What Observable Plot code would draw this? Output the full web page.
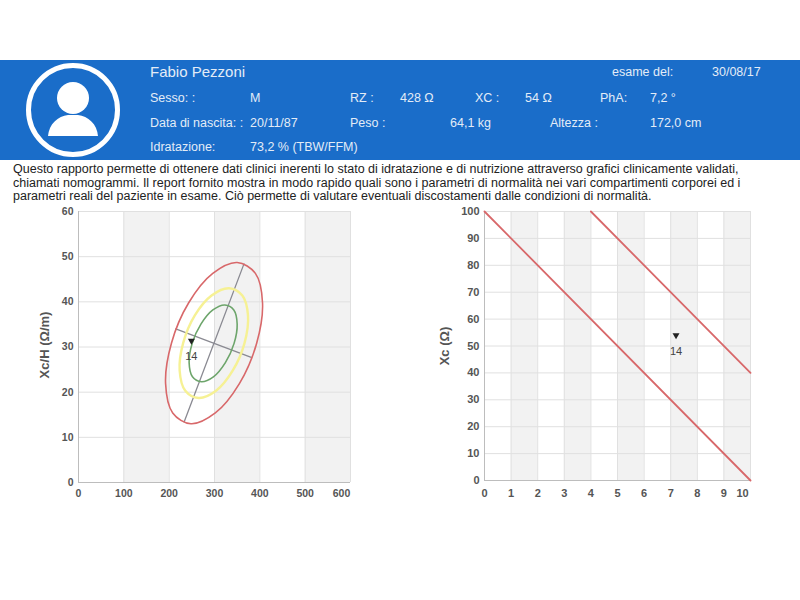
<!DOCTYPE html>
<html><head><meta charset="utf-8">
<script src="https://cdn.jsdelivr.net/npm/d3@7"></script>
<script src="https://cdn.jsdelivr.net/npm/@observablehq/plot@0.6"></script>
<style>
html,body{margin:0;padding:0;background:#fff;font-family:"Liberation Sans",Arial,sans-serif;}
#page{position:relative;width:800px;height:600px;overflow:hidden;}
#hdr{position:absolute;left:0;top:60px;width:800px;height:100px;background:#1a6dc9;}
.h{position:absolute;color:#e3ecf7;line-height:14px;white-space:nowrap;}
#body{position:absolute;left:13px;top:163px;width:785px;font-size:12.5px;line-height:13.5px;color:#222;white-space:nowrap;}
.chart{position:absolute;top:200px;}
.chart svg{display:block;}
.ylab{position:absolute;font-size:13px;font-weight:bold;color:#555;transform:translate(-50%,-50%) rotate(-90deg);white-space:nowrap;}
</style></head><body><div id="page">
<div id="hdr"></div>
<svg style="position:absolute;left:0;top:60px" width="150" height="100" viewBox="0 60 150 100">
<circle cx="73" cy="110" r="44.5" fill="none" stroke="#fff" stroke-width="5"/>
<circle cx="73" cy="98" r="16" fill="#fff"/>
<path d="M48 136 C49 124 58 116 68 115 L78 115 C88 116 97 124 98 136 Z" fill="#fff"/>
</svg>
<div id="body">Questo rapporto permette di ottenere dati clinici inerenti lo stato di idratazione e di nutrizione attraverso grafici clinicamente validati,<br>chiamati nomogrammi. Il report fornito mostra in modo rapido quali sono i parametri di normalità nei vari compartimenti corporei ed i<br>parametri reali del paziente in esame. Ciò permette di valutare eventuali discostamenti dalle condizioni di normalità.</div>
<div class="chart" id="c1" style="left:0"></div>
<div class="chart" id="c2" style="left:420px"></div>
<div class="ylab" style="left:44px;top:345px">Xc/H (Ω/m)</div>
<div class="ylab" style="left:444px;top:346px">Xc (Ω)</div>
</div>
<script>
// Header texts: [text, left, centre y, size]
const headerTexts = [
  ["Fabio Pezzoni",150,72,15],["esame del:",612,72,12.5],["30/08/17",712,72,12.5],
  ["Sesso: :",150,97.5,12.5],["M",250,97.5,12.5],["RZ :",350,97.5,12.5],["428 Ω",400,97.5,12.5],["XC :",475,97.5,12.5],["54 Ω",525,97.5,12.5],["PhA:",600,97.5,12.5],["7,2 °",650,97.5,12.5],
  ["Data di nascita: :",150,122.5,12.5],["20/11/87",250,122.5,12.5],["Peso :",350,122.5,12.5],["64,1 kg",450,122.5,12.5],["Altezza :",550,122.5,12.5],["172,0 cm",650,122.5,12.5],
  ["Idratazione:",150,147,12.5],["73,2 % (TBW/FFM)",250,147,12.5]
];
const page = document.getElementById("page");
for (const [t,x,y,s] of headerTexts){
  const d=document.createElement("div");d.className="h";d.textContent=t;
  d.style.left=x+"px";d.style.top=(y-7)+"px";d.style.fontSize=s+"px";page.appendChild(d);
}

// Left chart: RXc graph
const rxcXTicks=[0,100,200,300,400,500,600];
const rxcYTicks=[0,10,20,30,40,50,60];
const rxcBands=[[100,200],[300,400],[500,600]];
const redEllipse=[[350,48.7],[390.2,46.3],[405.9,39.8],[393,30.85],[354.9,21.9],[301.8,15.4],[248,13],[207.8,15.4],[192.1,21.9],[205,30.85],[243.1,39.8],[296.2,46.3]];
const yellowEllipse=[[332,43],[361.4,41.4],[373.9,37],[366.2,30.85],[340.4,24.8],[303.4,20.3],[265,18.7],[235.6,20.3],[223.1,24.8],[230.8,30.85],[256.6,37],[293.6,41.4]];
const greenEllipse=[[323,39.3],[342.6,38.2],[350,35.05],[343.2,30.8],[324,26.55],[297.6,23.4],[271,22.3],[251.4,23.4],[244,26.55],[250.8,30.8],[270,35.05],[296.4,38.2]];
const majorAxis=[[233,13.4],[365,48.4]];
const minorAxis=[[214.5,34],[381,27.7]];
const rxcPoint=[{x:249,y:31.4,label:"14"}];

// Right chart: PhA graph
const phaXTicks=[0,1,2,3,4,5,6,7,8,9,10];
const phaYTicks=[0,10,20,30,40,50,60,70,80,90,100];
const phaBands=[[1,2],[3,4],[5,6],[7,8],[9,10]];
const lowerLine=[[0,100],[10,0]];
const upperLine=[[4,100],[10,40]];
const phaPoint=[{x:7.2,y:54,label:"14"}];

const gridC="#e0e0e0", bandC="#f2f2f2", axisC="#bdbdbd";

function chart({width,marginLeft,marginRight,marginBottom,padX,fontSize,lastDx,xDomain,yDomain,xTicks,yTicks,bands,marks}){
  const lastTick=xTicks[xTicks.length-1];
  const tickStyle={fontSize,fontWeight:"bold",fill:"#555",tickSize:0};
  return Plot.plot({
    width,height:300,marginLeft,marginRight,marginTop:11,marginBottom,
    style:{background:"transparent",fontFamily:"'Liberation Sans',Arial,sans-serif"},
    x:{domain:xDomain,label:null},y:{domain:yDomain,label:null},
    marks:[
      Plot.rect(bands,{x1:d=>d[0],x2:d=>d[1],y1:yDomain[0],y2:yDomain[1],fill:bandC}),
      Plot.gridX(xTicks,{stroke:gridC,strokeOpacity:1}),
      Plot.gridY(yTicks,{stroke:gridC,strokeOpacity:1}),
      Plot.ruleX([xDomain[0]],{stroke:axisC}),
      Plot.ruleY([yDomain[0]],{stroke:axisC}),
      ...marks,
      Plot.axisY({ticks:yTicks,anchor:"left",label:null,tickPadding:5,...tickStyle}),
      Plot.axisX({ticks:xTicks.slice(0,-1),anchor:"bottom",label:null,tickPadding:padX,...tickStyle}),
      Plot.axisX({ticks:[lastTick],anchor:"bottom",label:null,tickPadding:padX,dx:lastDx,...tickStyle})
    ]
  });
}
const ptMarks=(p,dy)=>[
  Plot.dot(p,{x:"x",y:"y",symbol:"triangle",r:2.6,fill:"#222",rotate:180}),
  Plot.text(p,{x:"x",y:"y",text:"label",dy,fontSize:11,fill:"#444"})
];
const xy={x:d=>d[0],y:d=>d[1]};
document.getElementById("c1").appendChild(chart({
  width:380,marginLeft:78,marginRight:30,marginBottom:18,padX:7,fontSize:10.5,lastDx:-9,
  xDomain:[0,600],yDomain:[0,60],xTicks:rxcXTicks,yTicks:rxcYTicks,bands:rxcBands,
  marks:[
    Plot.line(majorAxis,{...xy,stroke:"#8a8a92",strokeWidth:1.3}),
    Plot.line(minorAxis,{...xy,stroke:"#8a8a92",strokeWidth:1.3}),
    Plot.line(redEllipse,{...xy,curve:"catmull-rom-closed",stroke:"#d8686a",strokeWidth:1.6}),
    Plot.line(yellowEllipse,{...xy,curve:"catmull-rom-closed",stroke:"#f6f194",strokeWidth:2.4}),
    Plot.line(greenEllipse,{...xy,curve:"catmull-rom-closed",stroke:"#6da56b",strokeWidth:1.6}),
    ...ptMarks(rxcPoint,16)
  ]
}));
document.getElementById("c2").appendChild(chart({
  width:340,marginLeft:64,marginRight:10,marginBottom:20,padX:9,fontSize:11,lastDx:-8,
  xDomain:[0,10],yDomain:[0,100],xTicks:phaXTicks,yTicks:phaYTicks,bands:phaBands,
  marks:[
    Plot.line(lowerLine,{...xy,stroke:"#d8686a",strokeWidth:1.8}),
    Plot.line(upperLine,{...xy,stroke:"#d8686a",strokeWidth:1.8}),
    ...ptMarks(phaPoint,16)
  ]
}));
</script></body></html>
